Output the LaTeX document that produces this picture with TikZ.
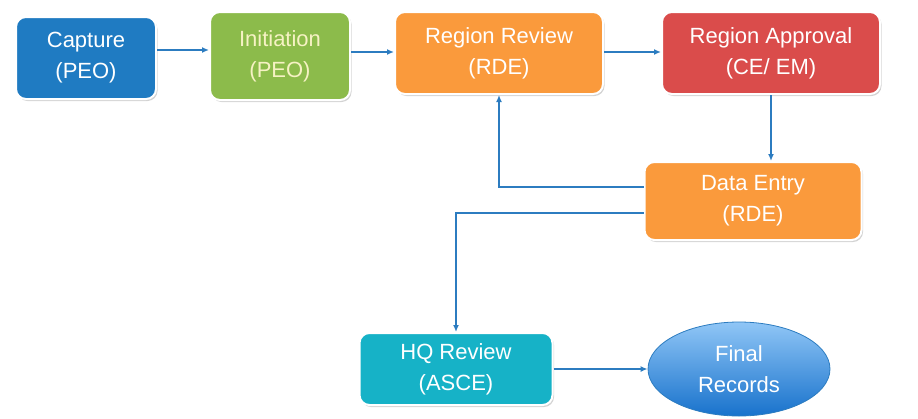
\documentclass[tikz,border=0pt]{standalone}
\usepackage{fontspec}
\setmainfont{Liberation Sans}
\usetikzlibrary{arrows.meta,shapes.geometric,shadows}
\definecolor{cblue}{HTML}{1F7BC2}
\definecolor{cgreen}{HTML}{8CBB4B}
\definecolor{corange}{HTML}{FA9A3C}
\definecolor{cred}{HTML}{DA4C4B}
\definecolor{cteal}{HTML}{16B2C7}
\definecolor{arr}{HTML}{2C7CC0}
\definecolor{etop}{HTML}{90C6F6}
\definecolor{ebot}{HTML}{1872CC}
\definecolor{ytext}{HTML}{F6F2C4}
\tikzset{
  box/.style={rectangle, rounded corners=10pt, draw=white, line width=2pt,
    text=white, align=center, font=\fontsize{22}{31}\selectfont,
    drop shadow={opacity=0.35, shadow xshift=1.5pt, shadow yshift=-2pt}},
  conn/.style={draw=arr, line width=1.8pt, -{Latex[length=7pt,width=6pt]}}
}
\begin{document}
\begin{tikzpicture}[x=1pt,y=1pt]
\useasboundingbox (0,0) rectangle (918,-418);
\node[box, fill=cblue, minimum width=140pt, minimum height=82pt] (cap) at (86,-58) {Capture\\(PEO)};
\node[box, fill=cgreen, text=ytext, minimum width=140pt, minimum height=88pt] (ini) at (280,-56) {Initiation\\(PEO)};
\node[box, fill=corange, minimum width=208pt, minimum height=82pt] (rr) at (499,-53) {Region Review\\(RDE)};
\node[box, fill=cred, minimum width=218pt, minimum height=82pt] (ra) at (771,-53) {Region Approval\\(CE/ EM)};
\node[box, fill=corange, minimum width=217pt, minimum height=78pt] (de) at (753,-201) {Data Entry\\(RDE)};
\node[box, fill=cteal, minimum width=193pt, minimum height=72pt] (hq) at (456,-369) {HQ Review\\(ASCE)};
\node[ellipse, draw=arr, line width=0.8pt, top color=etop, bottom color=ebot,
  text=white, align=center, font=\fontsize{22}{31}\selectfont,
  minimum width=182pt, minimum height=94pt, inner sep=0pt] (fr) at (739,-369) {Final\\Records};
\coordinate (ya) at (0,-50);
\coordinate (yb) at (0,-52);
\coordinate (yc) at (0,-187);
\coordinate (yd) at (0,-213);
\draw[conn] (cap.east |- ya) -- (ini.west |- ya);
\draw[conn] (ini.east |- yb) -- (rr.west |- yb);
\draw[conn] (rr.east |- yb) -- (ra.west |- yb);
\draw[conn] (ra.south) -- (ra.south |- de.north);
\draw[conn] (de.west |- yc) -| (rr.south);
\draw[conn] (de.west |- yd) -| (hq.north);
\draw[conn] (hq.east) -- (fr.west);
\end{tikzpicture}
\end{document}
